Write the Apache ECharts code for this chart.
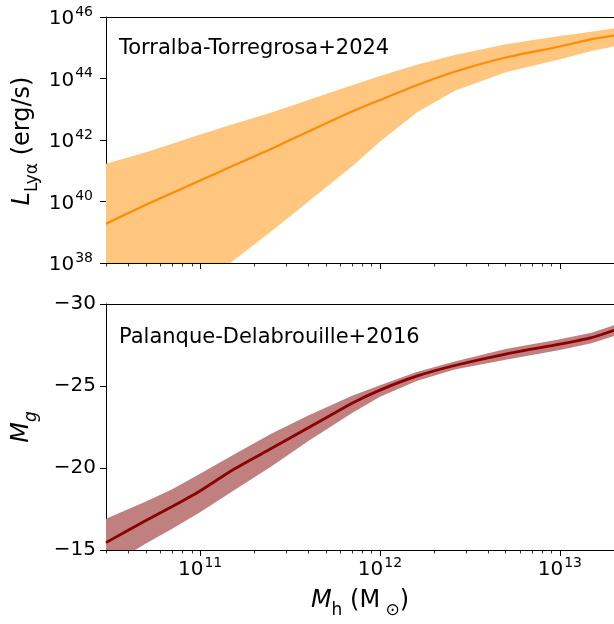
<!DOCTYPE html>
<html>
<head>
<meta charset="utf-8">
<script src="https://cdn.jsdelivr.net/npm/echarts@6/dist/echarts.min.js"></script>
<style>
html,body{margin:0;padding:0;background:#fff;}
#chart{width:614px;height:624px;}
</style>
</head>
<body>
<div id="chart"></div>
<script>
// ---- data ----
const haloMass = [3e10, 5e10, 7e10, 1e11, 1.5e11, 2.5e11, 4e11, 7e11, 1e12, 1.6e12, 2.6e12, 5e12, 1e13, 1.5e13, 2e13];

const lyaMedian = [1.9e39, 7.8e39, 1.9e40, 4.8e40, 1.4e41, 5.2e41, 1.9e42, 8.5e42, 2.0e43, 6.0e43, 1.65e44, 4.8e44, 1.1e45, 1.9e45, 2.5e45];
const lyaUpper  = [1.7e41, 4.0e41, 7.6e41, 1.5e42, 3.2e42, 7.9e42, 2.0e43, 6.0e43, 1.2e44, 2.8e44, 5.8e44, 1.3e45, 2.4e45, 3.3e45, 4.3e45];
const lyaLower  = [7.9e34, 7.9e35, 3.5e36, 1.8e37, 1.1e38, 1.1e39, 1.0e40, 1.4e41, 8.9e41, 7.9e42, 4.0e43, 1.6e44, 4.2e44, 7.9e44, 1.1e45];

const mgMedian = [-15.45, -16.8, -17.65, -18.6, -19.85, -21.2, -22.45, -23.95, -24.75, -25.6, -26.25, -26.95, -27.55, -27.95, -28.4];
const mgBright = [-16.9, -17.95, -18.7, -19.65, -20.75, -22.1, -23.2, -24.4, -25.05, -25.85, -26.5, -27.25, -27.85, -28.25, -28.7];
const mgFaint  = [-13.9, -15.4, -16.3, -17.3, -18.55, -20.1, -21.65, -23.35, -24.35, -25.3, -26.0, -26.6, -27.2, -27.6, -28.05];

const xRange = [3e10, 2e13];
const xMajorTicks = [1e11, 1e12, 1e13];
const xMinorTicks = [3e10, 4e10, 5e10, 6e10, 7e10, 8e10, 9e10,
  2e11, 3e11, 4e11, 5e11, 6e11, 7e11, 8e11, 9e11,
  2e12, 3e12, 4e12, 5e12, 6e12, 7e12, 8e12, 9e12];
const lyaRange = [1e38, 1e46];
const lyaTicks = [1e38, 1e40, 1e42, 1e44, 0.99999e46];
const mgRange = [-30, -15];
const mgStep = 5;

const labelTop = 'Torralba-Torregrosa+2024';
const labelBottom = 'Palanque-Delabrouille+2016';

// ---- styling ----
const FONT = 'DejaVu Sans';
const ORANGE = '#ff8c00';
const ORANGE_BAND = '#ffc680';
const RED = '#8b0000';
const RED_BAND = '#c08080';

const powRich = {
  b: {fontFamily: FONT, fontSize: 20, color: '#000', verticalAlign: 'bottom', lineHeight: 24},
  s: {fontFamily: FONT, fontSize: 14, color: '#000', verticalAlign: 'top', lineHeight: 24, padding: [0, 0, 0, 1]}
};
function powFmt(v) {
  return '{b|10}{s|' + Math.round(Math.log10(v)) + '}';
}

const GRID_LEFT = 106, GRID_W = 508;
const grids = [
  {left: GRID_LEFT, top: 17, width: GRID_W, height: 246},
  {left: GRID_LEFT, top: 304, width: GRID_W, height: 246}
];

function xAxesFor(gi, withLabels) {
  return [
    { // major ticks + axis line
      type: 'log', logBase: 10, gridIndex: gi, position: 'bottom',
      min: xRange[0], max: xRange[1],
      axisLine: {show: true, lineStyle: {color: '#000', width: 1}},
      axisTick: {show: true, inside: false, length: 6, lineStyle: {color: '#000', width: 1}, customValues: xMajorTicks},
      axisLabel: withLabels ? {show: true, customValues: xMajorTicks, formatter: powFmt, rich: powRich, margin: 6, color: '#000'} : {show: false},
      splitLine: {show: false}, minorTick: {show: false}
    },
    { // minor ticks
      type: 'log', logBase: 10, gridIndex: gi, position: 'bottom',
      min: xRange[0], max: xRange[1],
      axisLine: {show: false},
      axisTick: {show: true, inside: false, length: 3.5, lineStyle: {color: '#000', width: 0.8}, customValues: xMinorTicks},
      axisLabel: {show: false}, splitLine: {show: false}
    },
    { // top spine
      type: 'log', logBase: 10, gridIndex: gi, position: 'top',
      min: xRange[0], max: xRange[1],
      axisLine: {show: true, onZero: false, lineStyle: {color: '#000', width: 1}},
      axisTick: {show: false}, axisLabel: {show: false}, splitLine: {show: false}
    }
  ];
}

function bandRenderer(xs, hi, lo, fill) {
  return function (params, api) {
    if (params.dataIndex !== 0) return;
    const pts = [];
    for (let i = 0; i < xs.length; i++) pts.push(api.coord([xs[i], hi[i]]));
    for (let i = xs.length - 1; i >= 0; i--) pts.push(api.coord([xs[i], lo[i]]));
    const cs = params.coordSys;
    return {
      type: 'polygon',
      shape: {points: pts},
      style: {fill: fill, stroke: null},
      clipPath: {type: 'rect', shape: {x: cs.x, y: cs.y, width: cs.width, height: cs.height}}
    };
  };
}

const chart = echarts.init(document.getElementById('chart'), null, {renderer: 'canvas'});

const axisTitleRich = {
  i: {fontFamily: FONT, fontStyle: 'italic', fontSize: 24, fill: '#000', verticalAlign: 'top', lineHeight: 30},
  si: {fontFamily: FONT, fontStyle: 'italic', fontSize: 17, fill: '#000', verticalAlign: 'bottom', lineHeight: 30, padding: [9, 0, 0, 0]},
  sub: {fontFamily: FONT, fontSize: 17, fill: '#000', verticalAlign: 'bottom', lineHeight: 30, padding: [9, 0, 0, 0]},
  n: {fontFamily: FONT, fontSize: 24, fill: '#000', verticalAlign: 'top', lineHeight: 30}
};

const option = {
  animation: false,
  backgroundColor: '#fff',
  grid: grids,
  xAxis: xAxesFor(0, false).concat(xAxesFor(1, true)),
  yAxis: [
    {
      type: 'log', logBase: 10, gridIndex: 0,
      min: lyaRange[0], max: lyaRange[1],
      axisLine: {show: true, lineStyle: {color: '#000', width: 1}},
      axisTick: {show: true, length: 6, lineStyle: {color: '#000'}, customValues: lyaTicks},
      axisLabel: {show: true, customValues: lyaTicks, formatter: powFmt, rich: powRich, margin: 13, color: '#000',
        showMinLabel: true, showMaxLabel: true},
      splitLine: {show: false}
    },
    {
      type: 'value', gridIndex: 1, inverse: true,
      min: mgRange[0], max: mgRange[1], interval: mgStep,
      axisLine: {show: true, onZero: false, lineStyle: {color: '#000', width: 1}},
      axisTick: {show: true, length: 6, lineStyle: {color: '#000'}},
      axisLabel: {show: true, margin: 10, color: '#000', fontFamily: FONT, fontSize: 20,
        formatter: v => String(v).replace('-', '\u2212')},
      splitLine: {show: false}
    }
  ],
  series: [
    {
      type: 'custom', coordinateSystem: 'cartesian2d', xAxisIndex: 0, yAxisIndex: 0,
      data: [[haloMass[0], lyaMedian[0]]], clip: true, z: 1,
      renderItem: bandRenderer(haloMass, lyaUpper, lyaLower, ORANGE_BAND), silent: true
    },
    {
      type: 'line', xAxisIndex: 0, yAxisIndex: 0, z: 3,
      data: haloMass.map((m, i) => [m, lyaMedian[i]]),
      showSymbol: false, smooth: 0.2, clip: true,
      lineStyle: {color: ORANGE, width: 2.2}
    },
    {
      type: 'custom', coordinateSystem: 'cartesian2d', xAxisIndex: 3, yAxisIndex: 1,
      data: [[haloMass[0], mgMedian[0]]], clip: true, z: 1,
      renderItem: bandRenderer(haloMass, mgBright, mgFaint, RED_BAND), silent: true
    },
    {
      type: 'line', xAxisIndex: 3, yAxisIndex: 1, z: 3,
      data: haloMass.map((m, i) => [m, mgMedian[i]]),
      showSymbol: false, smooth: 0.2, clip: true,
      lineStyle: {color: RED, width: 2.8}
    }
  ],
  graphic: [
    {type: 'text', left: 119, top: 38, silent: true,
      style: {text: labelTop, fontFamily: FONT, fontSize: 21, fill: '#000'}},
    {type: 'text', left: 119, top: 327, silent: true,
      style: {text: labelBottom, fontFamily: FONT, fontSize: 21, fill: '#000'}},
    {type: 'text', x: 26, y: 141, rotation: Math.PI / 2, silent: true,
      style: {
        text: '{i|L}{sub|Ly\u03b1}{n| (erg/s)}',
        align: 'center', verticalAlign: 'middle', rich: axisTitleRich
      }},
    {type: 'text', x: 25, y: 427, rotation: Math.PI / 2, silent: true,
      style: {
        text: '{i|M}{si|g}',
        align: 'center', verticalAlign: 'middle', rich: axisTitleRich
      }},
    {type: 'text', x: 360, y: 604, silent: true,
      style: {
        text: '{i|M}{sub|h}{n| (M}{sub| \u2299}{n|)}',
        align: 'center', verticalAlign: 'middle', rich: axisTitleRich
      }}
  ]
};
chart.setOption(option);
</script>
</body>
</html>
